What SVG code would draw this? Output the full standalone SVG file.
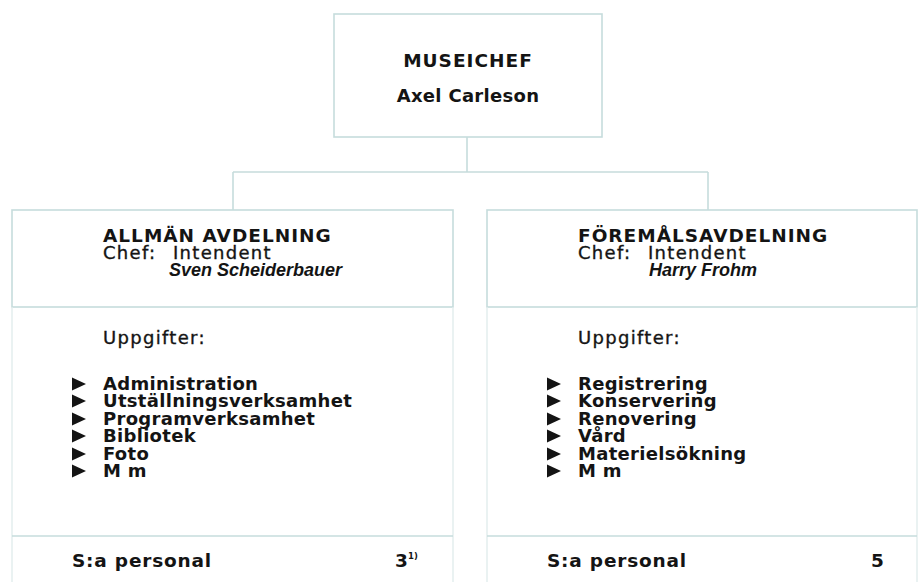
<svg xmlns="http://www.w3.org/2000/svg" xmlns:xlink="http://www.w3.org/1999/xlink" width="923" height="582" viewBox="0 0 923 582">
<style>
.ln{fill:none;stroke:#c6dcdc;stroke-width:1.6}
.lf{fill:none;stroke:#e2eded;stroke-width:1.4}
.t{font-family:"DejaVu Sans","Liberation Sans",sans-serif;fill:#141414}
.hd{font-size:18.5px;font-weight:bold;letter-spacing:1px}
.li{font-size:18px;font-weight:bold;letter-spacing:0.3px}
.nm{font-family:"Liberation Sans",Arial,sans-serif;font-size:18px;font-weight:bold;font-style:italic}
.up{font-size:18px;letter-spacing:1.3px;stroke:#141414;stroke-width:0.35px}
.sm{font-size:18.5px;font-weight:bold;letter-spacing:0.8px}
.bul{fill:#141414}
</style>
<defs>
<path id="bul" d="M0,-6.5 L14,0 L0,6.5 Z"/>
</defs>
<rect width="923" height="582" fill="#fff"/>
<g id="connectors">
<path class="ln" d="M467,137 V172 M233,172 H708 M233,172 V210 M708,172 V210"/>
</g>
<g id="node-museichef">
<rect class="ln" x="334" y="14" width="268" height="123"/>
<text class="t hd" x="468" y="67" text-anchor="middle">MUSEICHEF</text>
<text class="t li" x="468" y="102" text-anchor="middle">Axel Carleson</text>
</g>
<g id="node-allman">
<rect class="ln" x="12" y="210" width="441" height="97"/>
<path class="lf" d="M12,307 V582 M453,307 V582"/>
<path class="ln" d="M12,536 H453"/>
<text class="t hd" x="103" y="242">ALLMÄN AVDELNING</text>
<text class="t up" x="103" y="259">Chef:<tspan x="173">Intendent</tspan></text>
<text class="t nm" x="169" y="276">Sven Scheiderbauer</text>
<text class="t up" x="103" y="344">Uppgifter:</text>
<g class="bul">
<use xlink:href="#bul" x="72" y="384"/>
<use xlink:href="#bul" x="72" y="401"/>
<use xlink:href="#bul" x="72" y="419"/>
<use xlink:href="#bul" x="72" y="436"/>
<use xlink:href="#bul" x="72" y="454"/>
<use xlink:href="#bul" x="72" y="471"/>
</g>
<text class="t li" x="103" y="390">Administration</text>
<text class="t li" x="103" y="407">Utställningsverksamhet</text>
<text class="t li" x="103" y="425">Programverksamhet</text>
<text class="t li" x="103" y="442">Bibliotek</text>
<text class="t li" x="103" y="460">Foto</text>
<text class="t li" x="103" y="477">M m</text>
<text class="t sm" x="72" y="567">S:a personal</text>
<text class="t sm" x="395" y="567">3</text>
<text class="t" x="408" y="559" font-size="8.5" font-weight="bold">1)</text>
</g>
<g id="node-foremal">
<rect class="ln" x="487" y="210" width="430" height="97"/>
<path class="lf" d="M487,307 V582 M917,307 V582"/>
<path class="ln" d="M487,536 H917"/>
<text class="t hd" x="578" y="242">FÖREMÅLSAVDELNING</text>
<text class="t up" x="578" y="259">Chef:<tspan x="648">Intendent</tspan></text>
<text class="t nm" x="649" y="276">Harry Frohm</text>
<text class="t up" x="578" y="344">Uppgifter:</text>
<g class="bul">
<use xlink:href="#bul" x="547" y="384"/>
<use xlink:href="#bul" x="547" y="401"/>
<use xlink:href="#bul" x="547" y="419"/>
<use xlink:href="#bul" x="547" y="436"/>
<use xlink:href="#bul" x="547" y="454"/>
<use xlink:href="#bul" x="547" y="471"/>
</g>
<text class="t li" x="578" y="390">Registrering</text>
<text class="t li" x="578" y="407">Konservering</text>
<text class="t li" x="578" y="425">Renovering</text>
<text class="t li" x="578" y="442">Vård</text>
<text class="t li" x="578" y="460">Materielsökning</text>
<text class="t li" x="578" y="477">M m</text>
<text class="t sm" x="547" y="567">S:a personal</text>
<text class="t sm" x="871" y="567">5</text>
</g>
</svg>
